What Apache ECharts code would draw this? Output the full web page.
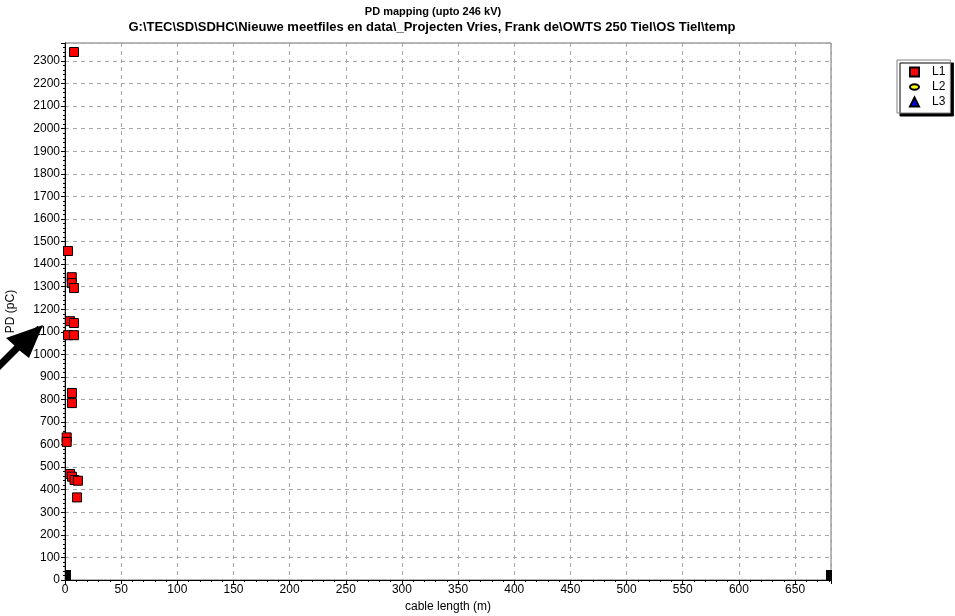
<!DOCTYPE html>
<html>
<head>
<meta charset="utf-8">
<script src="https://cdn.jsdelivr.net/npm/echarts@6/dist/echarts.min.js"></script>
<style>
html,body{margin:0;padding:0;background:#fff;}
#c{width:955px;height:616px;}
</style>
</head>
<body>
<div id="c"></div>
<script>
// Data
const titleText = 'PD mapping (upto 246 kV)';
const subtitleText = 'G:\\TEC\\SD\\SDHC\\Nieuwe meetfiles en data\\_Projecten Vries, Frank de\\OWTS 250 Tiel\\OS Tiel\\temp';
const seriesNames = ['L1', 'L2', 'L3'];
const l1X = [8, 2.7, 6, 6, 8, 4.5, 8, 2.7, 8, 6.2, 6.2, 1.5, 1.5, 4.5, 6.2, 8.5, 11.5, 10.7];
const l1Y = [2340, 1458, 1342, 1316, 1294, 1147, 1139, 1085, 1085, 829, 784, 632, 612, 470, 458, 443, 440, 366];
const l2X = [];
const l2Y = [];
const l3X = [];
const l3Y = [];
const cableEndsX = [0, 682];
const cableEndsY = [0, 0];
const xAxisMax = 682;
const yAxisMax = 2380;

const FONT = 'Liberation Sans, Arial, sans-serif';
const zip = (a, b) => a.map((v, i) => [v, b[i]]);

const chart = echarts.init(document.getElementById('c'), null, {renderer: 'canvas'});
chart.setOption({
  animation: false,
  backgroundColor: '#fff',
  textStyle: {fontFamily: FONT},
  title: [
    {text: titleText, left: 428, top: 1, textAlign: 'center',
     textStyle: {fontSize: 11, fontWeight: 'bold', color: '#000', fontFamily: FONT}},
    {text: subtitleText, left: 427, top: 16, textAlign: 'center',
     textStyle: {fontSize: 13, fontWeight: 'bold', color: '#000', fontFamily: FONT}}
  ],
  legend: {
    orient: 'vertical', left: 897, top: 60,
    padding: [6, 5, 5, 12],
    itemGap: 3, itemWidth: 9, itemHeight: 9,
    backgroundColor: '#fff', borderColor: '#808080', borderWidth: 1,
    shadowColor: '#000', shadowOffsetX: 3, shadowOffsetY: 3, shadowBlur: 0,
    textStyle: {fontSize: 12, color: '#000', fontFamily: FONT, padding: [0, 0, 0, 8]},
    data: [
      {name: 'L1', icon: 'rect'},
      {name: 'L2', icon: 'path://M0,3 A5,3 0 1,0 10,3 A5,3 0 1,0 0,3 Z'},
      {name: 'L3', icon: 'triangle'}
    ]
  },
  grid: {left: 65, right: 124, top: 43, bottom: 36, show: true, borderColor: '#707070', borderWidth: 1,
         backgroundColor: '#fff', containLabel: false, outerBoundsMode: 'none'},
  xAxis: {
    type: 'value', min: 0, max: xAxisMax, interval: 50,
    name: 'cable length (m)', nameLocation: 'middle', nameGap: 20,
    nameTextStyle: {fontSize: 12, color: '#000', fontFamily: FONT},
    axisLine: {show: true, lineStyle: {color: '#000', width: 1}},
    axisTick: {show: true, length: 4, lineStyle: {color: '#000'}},
    minorTick: {show: true, splitNumber: 5, length: 2, lineStyle: {color: '#000'}},
    axisLabel: {fontSize: 12, color: '#000', margin: 4, showMaxLabel: false, fontFamily: FONT,
                formatter: v => String(v)},
    splitLine: {show: true, lineStyle: {color: '#a8a8a8', type: [4, 4], width: 1}}
  },
  yAxis: {
    type: 'value', min: 0, max: yAxisMax, interval: 100,
    name: 'PD (pC)', nameLocation: 'middle', nameGap: 48, nameRotate: 90,
    nameTextStyle: {fontSize: 12, color: '#000', fontFamily: FONT},
    axisLine: {show: true, lineStyle: {color: '#000', width: 1}},
    axisTick: {show: true, length: 4, lineStyle: {color: '#000'}},
    minorTick: {show: true, splitNumber: 5, length: 2, lineStyle: {color: '#000'}},
    axisLabel: {fontSize: 12, color: '#000', margin: 5, showMaxLabel: false, fontFamily: FONT,
                formatter: v => String(v)},
    splitLine: {show: true, lineStyle: {color: '#a8a8a8', type: [4, 4], width: 1}}
  },
  series: [
    {name: 'L1', type: 'scatter', symbol: 'rect', symbolSize: 9,
     itemStyle: {color: '#ff0000', borderColor: '#000', borderWidth: 1, opacity: 1},
     data: zip(l1X, l1Y), z: 5},
    {name: 'L2', type: 'scatter', symbol: 'circle', symbolSize: [9, 6],
     itemStyle: {color: '#ffff00', borderColor: '#000', borderWidth: 1, opacity: 1},
     data: zip(l2X, l2Y)},
    {name: 'L3', type: 'scatter', symbol: 'triangle', symbolSize: 9,
     itemStyle: {color: '#0000ff', borderColor: '#000', borderWidth: 1, opacity: 1},
     data: zip(l3X, l3Y)},
    {name: 'ends', type: 'scatter', symbol: 'rect', symbolSize: [6, 10],
     itemStyle: {color: '#000', opacity: 1}, silent: true, z: 6,
     data: zip(cableEndsX, cableEndsY).map((p, i) => ({value: p, symbolOffset: [i === 0 ? 3 : -2, -5]}))}
  ],
  graphic: [
    {type: 'polygon', z: 100,
     shape: {points: [[43, 325], [29, 358], [19.5, 350.5], [-3.5, 373.5], [-8.5, 368.5], [14.5, 345.5], [6, 338]]},
     style: {fill: '#000'}}
  ]
});
</script>
</body>
</html>
